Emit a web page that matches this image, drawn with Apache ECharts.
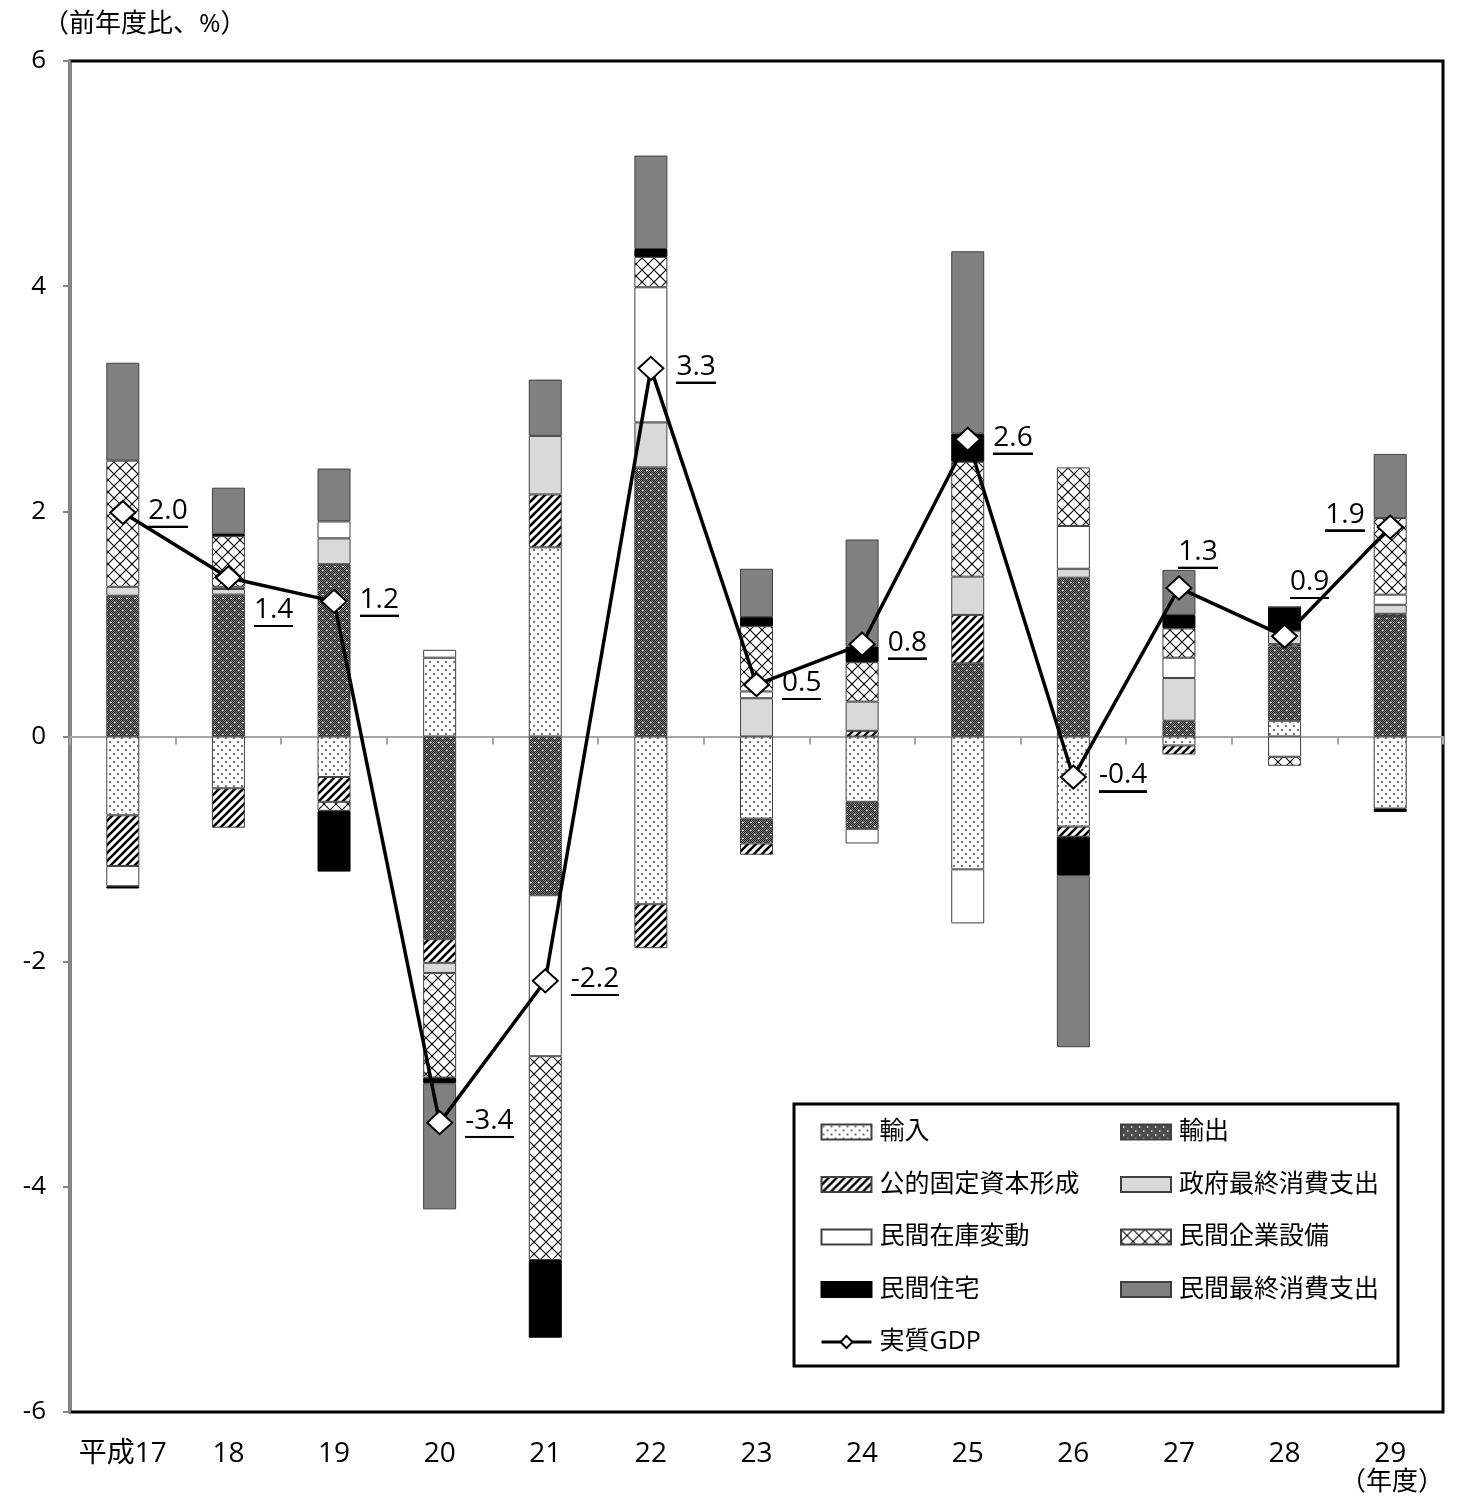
<!DOCTYPE html>
<html>
<head>
<meta charset="utf-8">
<script src="https://cdn.jsdelivr.net/npm/echarts@6/dist/echarts.min.js"></script>
<style>
html,body{margin:0;padding:0;background:#fff;}
#chart{width:1461px;height:1506px;}
</style>
</head>
<body>
<div id="chart"></div>
<script>
// ---- data ----
const categories = ['平成17','18','19','20','21','22','23','24','25','26','27','28','29'];
const seriesNames = ['輸入','輸出','公的固定資本形成','政府最終消費支出','民間在庫変動','民間企業設備','民間住宅','民間最終消費支出'];
const imports      = [-0.70,-0.46,-0.36, 0.70, 1.68,-1.49,-0.73,-0.58,-1.18,-0.80,-0.08, 0.14,-0.64];
const exports_     = [ 1.25, 1.26, 1.53,-1.80,-1.41, 2.39,-0.22,-0.24, 0.65, 1.41, 0.14, 0.66, 1.07];
const publicInv    = [-0.45,-0.35,-0.22,-0.21, 0.47,-0.39,-0.10, 0.05, 0.43,-0.09,-0.08, 0.02, 0.02];
const govCons      = [ 0.08, 0.05, 0.23,-0.09, 0.52, 0.40, 0.34, 0.26, 0.34, 0.08, 0.38, 0.12, 0.08];
const inventory    = [-0.18, 0.02, 0.15, 0.07,-1.43, 1.20, 0.06,-0.13,-0.48, 0.38, 0.18,-0.18, 0.09];
const capex        = [ 1.12, 0.45,-0.08,-0.93,-1.81, 0.27, 0.58, 0.35, 1.02, 0.52, 0.26,-0.08, 0.68];
const housing      = [-0.02, 0.02,-0.54,-0.05,-0.69, 0.07, 0.08, 0.14, 0.25,-0.34, 0.12, 0.21,-0.03];
const privCons     = [ 0.87, 0.41, 0.47,-1.12, 0.50, 0.83, 0.43, 0.95, 1.62,-1.53, 0.40, 0.00, 0.57];
const realGDP      = [ 1.99, 1.41, 1.20,-3.43,-2.17, 3.27, 0.46, 0.82, 2.64,-0.36, 1.32, 0.89, 1.86];
const yTicks = { min: -6, max: 6, interval: 2 };

// ---- patterns ----
function tile(w, h, draw) {
  const c = document.createElement('canvas');
  c.width = w; c.height = h;
  const g = c.getContext('2d');
  g.fillStyle = '#fff'; g.fillRect(0, 0, w, h);
  draw(g, w, h);
  return { image: c, repeat: 'repeat' };
}
const patImports = tile(8, 8, g => {
  g.fillStyle = '#777';
  g.fillRect(1, 1, 2, 2); g.fillRect(5, 5, 2, 2);
});
const patExports = tile(8, 8, g => {
  for (let y = 0; y < 8; y++) for (let x = 0; x < 8; x++) {
    g.fillStyle = ((x + y) % 2 === 0) ? '#111' : '#8a8a8a';
    g.fillRect(x, y, 1, 1);
  }
  g.fillStyle = '#fff';
  g.fillRect(2, 2, 2, 1); g.fillRect(6, 6, 2, 1);
});
const patPublic = tile(8, 8, g => {
  g.strokeStyle = '#000'; g.lineWidth = 2.6;
  [[-8, 8, 8, -8], [0, 8, 8, 0], [0, 16, 16, 0]].forEach(l => {
    g.beginPath(); g.moveTo(l[0], l[1]); g.lineTo(l[2], l[3]); g.stroke();
  });
});
const patCapex = tile(12, 12, g => {
  g.strokeStyle = '#000'; g.lineWidth = 1.1;
  [[0, 0, 12, 12], [-12, 0, 0, 12], [12, 0, 24, 12], [0, 12, 12, 0], [-12, 12, 0, 0], [12, 12, 24, 0]].forEach(l => {
    g.beginPath(); g.moveTo(l[0], l[1]); g.lineTo(l[2], l[3]); g.stroke();
  });
});
const fills = [patImports, patExports, patPublic, '#d9d9d9', '#ffffff', patCapex, '#000000', '#808080'];
const borders = ['#404040','#404040','#404040','#404040','#404040','#404040','#000000','#404040'];
const values = [imports, exports_, publicInv, govCons, inventory, capex, housing, privCons];

// underline image for data labels
const ul = document.createElement('canvas');
ul.width = 4; ul.height = 40;
(function(){ const g = ul.getContext('2d'); g.fillStyle = '#000'; g.fillRect(0, 37, 4, 3); })();

const FONT = '"Open Sans", "Noto Sans CJK JP", sans-serif';

// label placement per point (style only)
const labelPlace = [
  { position: 'right', distance: 12 },
  { position: 'right', distance: 12, offset: [0, 34] },
  { position: 'right', distance: 12 },
  { position: 'right', distance: 12 },
  { position: 'right', distance: 12 },
  { position: 'right', distance: 12 },
  { position: 'right', distance: 12 },
  { position: 'right', distance: 12 },
  { position: 'right', distance: 12 },
  { position: 'right', distance: 12 },
  { position: 'top', distance: 8, offset: [19, 0] },
  { position: 'top', distance: 26, offset: [25, 0] },
  { position: 'left', distance: 12, offset: [0, -11] }
];

const barSeries = seriesNames.map((n, i) => ({
  name: n,
  type: 'bar',
  stack: 'gdp',
  barWidth: 33,
  xAxisIndex: 0,
  data: values[i],
  itemStyle: { color: fills[i], borderColor: borders[i], borderWidth: 1 },
  emphasis: { disabled: true },
  z: 2
}));

const lineSeries = {
  name: '実質GDP',
  type: 'line',
  xAxisIndex: 0,
  data: realGDP.map((v, i) => ({ value: v, label: labelPlace[i] })),
  symbol: 'diamond',
  symbolSize: [25, 23],
  showAllSymbol: true,
  lineStyle: { color: '#000', width: 3.5 },
  itemStyle: { color: '#fff', borderColor: '#000', borderWidth: 2 },
  label: {
    show: true,
    formatter: p => '{u|' + p.value.toFixed(1) + '}',
    rich: {
      u: { fontSize: 28, fontFamily: FONT, color: '#000', lineHeight: 28, padding: [0, 0, 3, 0],
           backgroundColor: { image: ul } }
    }
  },
  emphasis: { disabled: true },
  z: 5
};

const legendText = { fontSize: 25, fontFamily: FONT, color: '#000', lineHeight: 26, padding: [0, 0, 0, 3] };
const rectItem = n => ({ name: n, icon: 'rect' });

const chart = echarts.init(document.getElementById('chart'), null, { renderer: 'canvas' });
chart.setOption({
  animation: false,
  backgroundColor: '#fff',
  textStyle: { fontFamily: FONT },
  title: {
    text: '（前年度比、%）', left: 38, top: 7,
    textStyle: { fontSize: 26, fontWeight: 'normal', color: '#000', fontFamily: FONT }
  },
  grid: { left: 70, right: 18, top: 61, bottom: 94, show: true, borderColor: '#000', borderWidth: 3 },
  xAxis: [
    {
      type: 'category', data: categories, position: 'bottom',
      axisLine: { show: false, onZero: false }, axisTick: { show: false },
      axisLabel: { fontSize: 28, color: '#000', margin: 28, fontFamily: FONT, interval: 0 },
      splitLine: { show: false }
    },
    {
      type: 'category', data: categories, position: 'bottom',
      axisLine: { show: true, onZero: true, lineStyle: { color: '#a6a6a6', width: 2 } },
      axisTick: { show: true, length: 8, lineStyle: { color: '#a6a6a6', width: 2 } },
      axisLabel: { show: false },
      splitLine: { show: false }
    }
  ],
  yAxis: {
    type: 'value', min: yTicks.min, max: yTicks.max, interval: yTicks.interval,
    axisLine: { show: true, lineStyle: { color: '#868686', width: 2 } },
    axisTick: { show: true, length: 7, lineStyle: { color: '#868686', width: 2 } },
    axisLabel: { fontSize: 26, color: '#000', margin: 24, fontFamily: FONT },
    splitLine: { show: false }
  },
  legend: [
    {
      orient: 'vertical', left: 815, top: 1114, itemWidth: 50, itemHeight: 15, itemGap: 26.5,
      selectedMode: false,
      data: [rectItem('輸入'), rectItem('公的固定資本形成'), rectItem('民間在庫変動'), rectItem('民間住宅'),
             { name: '実質GDP', lineStyle: { width: 3, color: '#000' } }],
      textStyle: legendText, z: 10
    },
    {
      orient: 'vertical', left: 1115, top: 1114, itemWidth: 50, itemHeight: 15, itemGap: 26.5,
      selectedMode: false,
      data: [rectItem('輸出'), rectItem('政府最終消費支出'), rectItem('民間企業設備'), rectItem('民間最終消費支出')],
      textStyle: legendText, z: 10
    }
  ],
  graphic: [
    {
      type: 'rect', z: 3, silent: true,
      shape: { x: 794, y: 1104, width: 604, height: 262 },
      style: { fill: '#fff', stroke: '#000', lineWidth: 3 }
    },
    {
      type: 'text', left: 1340, top: 1470, silent: true,
      style: { text: '（年度）', fill: '#000', font: '26px ' + FONT }
    }
  ],
  series: barSeries.concat([lineSeries])
});
</script>
</body>
</html>
